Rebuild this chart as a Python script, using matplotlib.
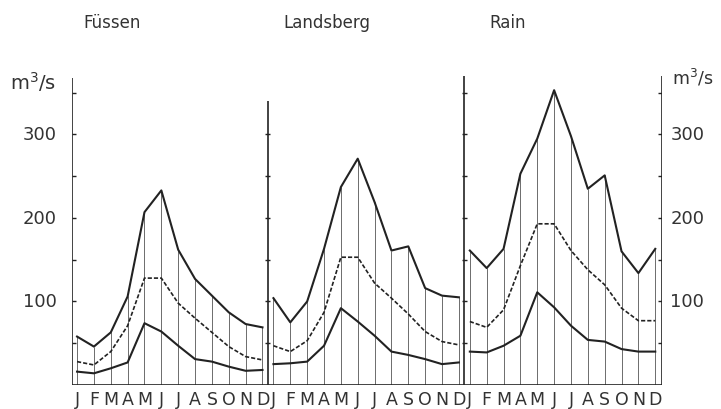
import matplotlib.pyplot as plt
import numpy as np

months = ["J", "F", "M", "A", "M", "J", "J", "A", "S", "O", "N", "D"]
stations = ["Füssen", "Landsberg", "Rain"]

# monthly discharge in m3/s: highest, mean (dashed), lowest
fuessen_high = [58, 46, 63, 106, 207, 233, 162, 127, 107, 87, 73, 69]
fuessen_mean = [28, 24, 40, 71, 128, 128, 98, 80, 63, 46, 34, 30]
fuessen_low = [16, 14, 20, 27, 74, 64, 47, 31, 28, 22, 17, 18]

landsberg_high = [104, 75, 100, 163, 237, 271, 219, 161, 166, 116, 107, 105]
landsberg_mean = [47, 40, 53, 87, 153, 153, 122, 104, 85, 64, 52, 48]
landsberg_low = [25, 26, 28, 47, 92, 76, 59, 40, 36, 31, 25, 27]

rain_high = [161, 140, 163, 253, 295, 353, 298, 235, 251, 160, 134, 163]
rain_mean = [76, 69, 90, 143, 193, 193, 161, 138, 120, 92, 77, 77]
rain_low = [40, 39, 47, 59, 111, 93, 71, 54, 52, 43, 40, 40]

highs = [fuessen_high, landsberg_high, rain_high]
means = [fuessen_mean, landsberg_mean, rain_mean]
lows = [fuessen_low, landsberg_low, rain_low]

y_labels = [100, 200, 300]
panel_step = 11.65
ink = "#222222"
label_ink = "#333333"

fig = plt.figure(figsize=(7.21, 4.10), dpi=100)
ax = fig.add_axes([72 / 721, 24 / 410, 590 / 721, 309 / 410])
ax.set_xlim(-0.3, 34.7)
ax.set_ylim(0, 370)
ax.axis("off")

x_month = np.arange(12)
for p in range(3):
    xs = x_month + p * panel_step
    # thin vertical month lines up to the top curve
    ax.vlines(xs, 0, highs[p], color="#555555", lw=0.6)
    ax.plot(xs, highs[p], color=ink, lw=1.5)
    ax.plot(xs, means[p], color=ink, lw=1.2, ls=(0, (2.5, 1.2)))
    ax.plot(xs, lows[p], color=ink, lw=1.5)
    for m, lab in zip(xs, months):
        ax.text(m, -6, lab, ha="center", va="top", fontsize=12.5, color=label_ink)

# baseline and vertical axes
ax.hlines(0, -0.3, 34.7, color=ink, lw=1.2)
axes_x = [-0.3, panel_step - 0.33, 2 * panel_step - 0.33, 34.7]
axes_top = [368, 340, 370, 370]
tick_vals = np.arange(50, 351, 50)
for i, (ax_x, top) in enumerate(zip(axes_x, axes_top)):
    ax.vlines(ax_x, 0, top, color=ink, lw=1.2)
    t = tick_vals[tick_vals < top]
    if i == 0:
        ax.hlines(t, ax_x, ax_x + 0.25, color=ink, lw=1.0)
    elif i == 3:
        ax.hlines(t, ax_x - 0.25, ax_x, color=ink, lw=1.0)
    else:
        ax.hlines(t, ax_x - 0.15, ax_x + 0.15, color=ink, lw=1.0)

for v in y_labels:
    ax.text(-1.2, v, str(v), ha="right", va="center", fontsize=13, color=label_ink)
    ax.text(35.2, v, str(v), ha="left", va="center", fontsize=13, color=label_ink)

fig.text(10 / 721, 1 - 82 / 410, "m$^3$/s", ha="left", va="center", fontsize=14, color=label_ink)
fig.text(672 / 721, 1 - 78 / 410, "m$^3$/s", ha="left", va="center", fontsize=12.5, color=label_ink)

for name, px in zip(stations, [83, 283, 489]):
    fig.text(px / 721, 1 - 23 / 410, name, ha="left", va="center", fontsize=12, color=label_ink)

fig.savefig("out.png", dpi=100)
